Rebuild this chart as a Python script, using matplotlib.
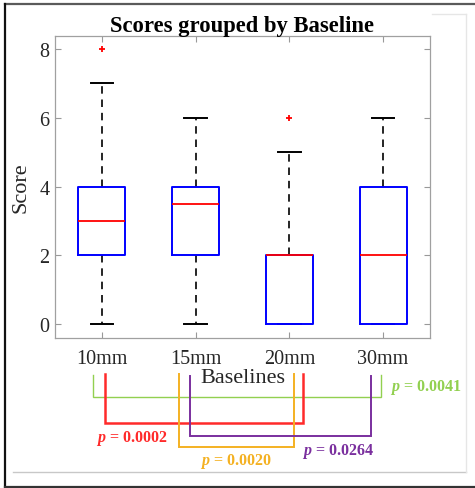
import matplotlib
matplotlib.use("Agg")
import matplotlib.pyplot as plt
from matplotlib.lines import Line2D
from matplotlib.transforms import blended_transform_factory

plt.rcParams['font.family'] = ['Liberation Serif', 'DejaVu Serif']
plt.rcParams['mathtext.fontset'] = 'custom'
plt.rcParams['mathtext.bfit'] = 'Liberation Serif:italic:bold'
plt.rcParams['mathtext.rm'] = 'Liberation Serif'

# ---- data ----
categories = ["10mm", "15mm", "20mm", "30mm"]
q1 = [2, 2, 0, 0]
medians = [3, 3.5, 2, 2]
q3 = [4, 4, 2, 4]
whisker_lo = [0, 0, 0, 0]
whisker_hi = [7, 6, 5, 6]
outliers = [[8], [], [6], []]
yticks = [0, 2, 4, 6, 8]

# comparisons: (index a, index b), p-value
comp_pairs = [(0, 3), (0, 2), (1, 2), (1, 3)]
comp_pvalues = ["0.0041", "0.0002", "0.0020", "0.0264"]

# ---- styling for comparison brackets ----
comp_colors = ["#92d050", "#ff2a2a", "#f4b122", "#7a2f9e"]
comp_lw = [1.0, 1.8, 1.4, 1.4]
comp_dx = [(-0.09, -0.02), (0.03, 0.15), (-0.175, 0.05), (-0.057, -0.13)]
comp_top = [-0.1215, -0.119, -0.119, -0.126]
comp_bottom = [-0.1964, -0.2825, -0.3619, -0.3235]
label_xy = [(4.076, -0.1613, 'left'), (1.32, -0.331, 'center'),
            (2.433, -0.407, 'center'), (3.519, -0.373, 'center')]

fig = plt.figure(figsize=(4.75, 4.89), dpi=100)
ax = fig.add_axes([55/475, 1-339/489, 375/475, 302/489])

stats = []
for i in range(len(categories)):
    stats.append(dict(q1=q1[i], med=medians[i], q3=q3[i],
                      whislo=whisker_lo[i], whishi=whisker_hi[i],
                      fliers=outliers[i], label=categories[i]))
positions = list(range(1, len(categories) + 1))
ax.bxp(stats, positions=positions, widths=0.5, showfliers=True,
       boxprops=dict(color='#0000ff', linewidth=1.4, zorder=3),
       medianprops=dict(color='#ff0000', linewidth=1.3, zorder=4),
       whiskerprops=dict(color='black', linewidth=1.2, linestyle=(0, (4.5, 3.5)), zorder=2),
       capprops=dict(color='black', linewidth=1.4, zorder=2),
       capwidths=0.24,
       flierprops=dict(marker='+', markeredgecolor='#ff0000', markersize=5,
                       markeredgewidth=1.3, linestyle='none'))

ax.set_xlim(0.5, 4.5)
ax.set_ylim(-0.4, 8.38)
ax.set_yticks(yticks)
ax.set_xticks(positions)
ax.set_xticklabels(categories)
ax.tick_params(axis='both', direction='in', length=4, color='#999999',
               labelcolor='#262626', labelsize=14.5, top=True, right=True)
ax.tick_params(axis='x', pad=8)
ax.tick_params(axis='y', pad=4)
for sp in ax.spines.values():
    sp.set_color('#a0a0a0')
    sp.set_linewidth(0.9)

ax.set_title("Scores grouped by Baseline", fontsize=16.3, fontweight='bold', pad=3.5)
ax.set_xlabel("Baselines", fontsize=16, color='#262626', labelpad=0)
ax.set_ylabel("Score", fontsize=16, color='#262626', labelpad=6)

tr = blended_transform_factory(ax.transData, ax.transAxes)
for k, (a, b) in enumerate(comp_pairs):
    xa = positions[a] + comp_dx[k][0]
    xb = positions[b] + comp_dx[k][1]
    ax.plot([xa, xa, xb, xb], [comp_top[k], comp_bottom[k], comp_bottom[k], comp_top[k]],
            color=comp_colors[k], linewidth=comp_lw[k], transform=tr, clip_on=False,
            solid_joinstyle='miter')
    lx, ly, ha = label_xy[k]
    ax.text(lx, ly, r"$\mathbfit{p}$ = " + comp_pvalues[k], transform=tr,
            color=comp_colors[k], fontsize=11.5, fontweight='bold',
            ha=ha, va='center', clip_on=False)

# screenshot frame lines (figure pixels)
def fl(x, y, c, lw):
    fig.add_artist(Line2D([v/475 for v in x], [1 - v/489 for v in y],
                          color=c, linewidth=lw, transform=fig.transFigure))

fl([5, 475], [5, 5], '#5a5a5a', 1.6)
fl([5, 5], [5, 488], '#111111', 1.6)
fl([5, 475], [488, 488], '#333333', 1.6)
fl([13, 466], [473, 473], '#c8c8c8', 1.0)
fl([466, 466], [15, 473], '#e6e6e6', 1.0)
fl([432, 466], [15, 15], '#e6e6e6', 1.0)

fig.savefig("out.png", dpi=100)
